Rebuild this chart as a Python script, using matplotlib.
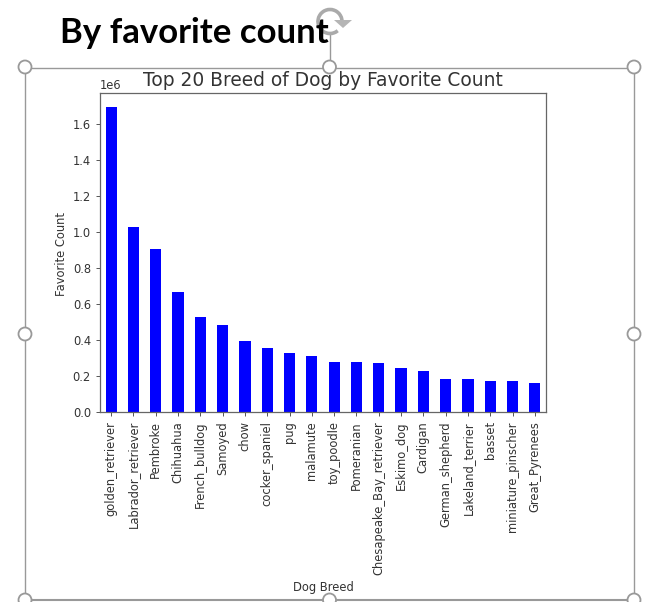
import matplotlib
matplotlib.use("Agg")
import matplotlib.pyplot as plt
from matplotlib.lines import Line2D
from matplotlib.patches import Ellipse, Arc, Polygon

breeds = ["golden_retriever", "Labrador_retriever", "Pembroke", "Chihuahua", "French_bulldog",
          "Samoyed", "chow", "cocker_spaniel", "pug", "malamute", "toy_poodle", "Pomeranian",
          "Chesapeake_Bay_retriever", "Eskimo_dog", "Cardigan", "German_shepherd",
          "Lakeland_terrier", "basset", "miniature_pinscher", "Great_Pyrenees"]
favorites = [1694000, 1030000, 905000, 667000, 528000, 483000, 394000, 355000, 328000, 310000,
             278000, 277000, 270000, 245000, 228000, 185000, 185000, 174000, 172000, 160000]

W, H = 649, 602
fig = plt.figure(figsize=(W / 100, H / 100), dpi=100)
TXT = "#333333"
FS = 8.3

ax = fig.add_axes([100 / W, 1 - 412 / H, 446 / W, 319 / H])
ax.bar(range(len(breeds)), favorites, width=0.5, color="#0000ff")
ax.set_xlim(-0.5, len(breeds) - 0.5)
ax.set_ylim(0, 1772000)
ax.set_xticks(range(len(breeds)))
ax.set_xticklabels(breeds, rotation=90, fontsize=FS, color=TXT)
ax.tick_params(axis="y", labelsize=FS, labelcolor=TXT, color="#555555", length=3, width=0.7)
ax.tick_params(axis="x", color="#555555", length=3, width=0.7)
ax.yaxis.get_offset_text().set(fontsize=FS, color=TXT)
for s in ax.spines.values():
    s.set_color("#666666")
    s.set_linewidth(0.9)
ax.set_ylabel("Favorite Count", fontsize=FS, color=TXT)
ax.yaxis.set_label_coords(-0.071, 0.495)

fig.text(323 / W, 1 - 81 / H, "Top 20 Breed of Dog by Favorite Count", fontsize=13.4,
         color=TXT, ha="center", va="center")
fig.text(323 / W, 1 - 587 / H, "Dog Breed", fontsize=FS, color=TXT, ha="center", va="center")
fig.text(60 / W, 1 - 33 / H, "By favorite count", fontsize=25, fontweight="bold",
         family="Lato", color="black", ha="left", va="center")

# Selection frame from the slide editor, laid over the figure in pixel coordinates
ov = fig.add_axes([0, 0, 1, 1], facecolor="none")
ov.set_xlim(0, W)
ov.set_ylim(H, 0)
ov.axis("off")
G = "#999999"
ov.add_line(Line2D([25, 634, 634], [68, 68, 600], color=G, lw=1.0))
ov.add_line(Line2D([25, 25], [68, 600], color=G, lw=1.0))
ov.add_line(Line2D([25, 634], [600, 600], color=G, lw=1.5))
ov.add_line(Line2D([329.5, 329.5], [35, 68], color=G, lw=1.0))
for x, y in [(25, 67), (329.5, 67), (634, 67), (25, 334), (634, 334), (25, 600), (329.5, 600), (634, 600)]:
    ov.add_patch(Ellipse((x, y), 13, 13, fc="white", ec=G, lw=1.3, zorder=3))
# Rotation handle
ov.add_patch(Arc((330, 21.5), 24, 24, theta1=50, theta2=370, color="#aaaaaa", lw=2.6, zorder=4))
ov.add_patch(Polygon([[334, 20], [352, 20], [343, 28]], closed=True, fc="#b5b5b5", ec="none", zorder=4))

fig.savefig("out.png", dpi=100)
